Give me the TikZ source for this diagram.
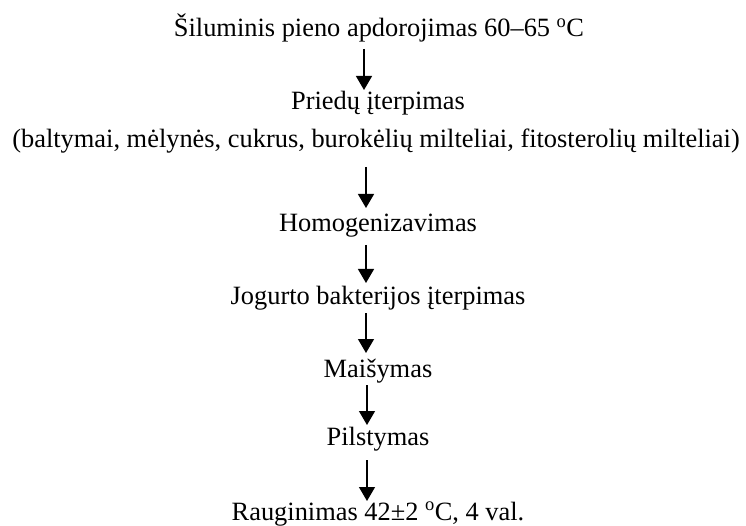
\documentclass[tikz,border=0pt]{standalone}
\usepackage{fontspec}
\setmainfont{Liberation Serif}
\usetikzlibrary{arrows.meta}
\begin{document}
\begin{tikzpicture}[x=1pt,y=-1pt,
  lbl/.style={font=\fontsize{26.4}{30}\selectfont, inner sep=0pt, anchor=base},
  arr/.style={line width=1.3pt, -{Triangle[length=14pt,width=16pt]}}]
\useasboundingbox (0,0) rectangle (746,526);
\node[lbl] (t1) at (379,37) {Šiluminis pieno apdorojimas 60–65 \textsuperscript{o}C};
\node[lbl] (t2) at (378,110) {Priedų įterpimas};
\node[lbl] (t3) at (376,148) {(baltymai, mėlynės, cukrus, burokėlių milteliai, fitosterolių milteliai)};
\node[lbl] (t4) at (378,232) {Homogenizavimas};
\node[lbl] (t5) at (378,305) {Jogurto bakterijos įterpimas};
\node[lbl] (t6) at (378,377) {Maišymas};
\node[lbl] (t7) at (378,445) {Pilstymas};
\node[lbl] (t8) at (378,520) {Rauginimas 42±2 \textsuperscript{o}C, 4 val.};
\coordinate (a1) at (364,49);  \coordinate (b1) at (364,90);
\coordinate (a2) at (366,167); \coordinate (b2) at (366,208);
\coordinate (a3) at (366,245); \coordinate (b3) at (366,283);
\coordinate (a4) at (366,313); \coordinate (b4) at (366,353);
\coordinate (a5) at (367,385); \coordinate (b5) at (367,425);
\coordinate (a6) at (367,460); \coordinate (b6) at (367,501);
\foreach \i in {1,...,6} \draw[arr] (a\i) -- (b\i);
\end{tikzpicture}
\end{document}
